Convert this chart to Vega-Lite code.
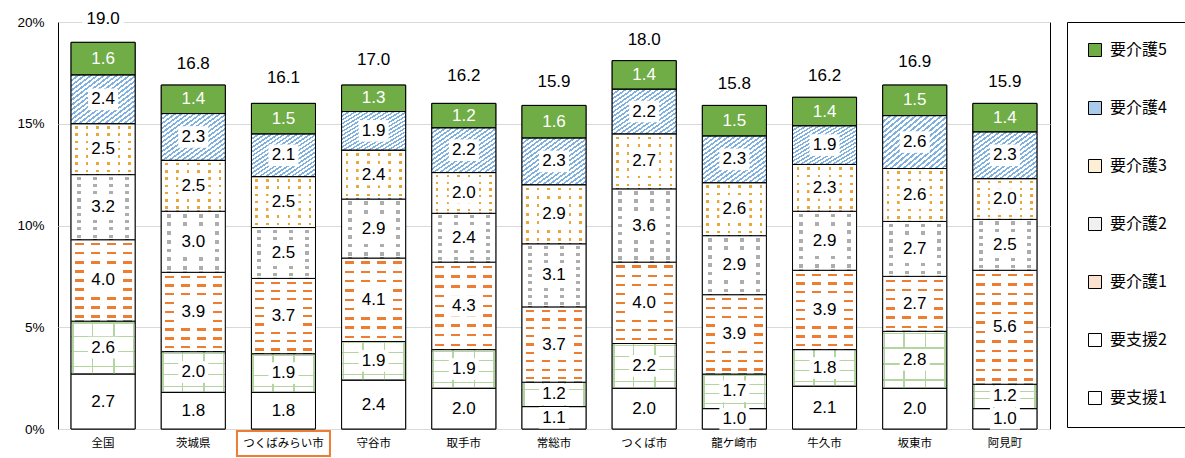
{
  "$schema": "https://vega.github.io/schema/vega-lite/v6.json",
  "width": 992,
  "height": 407,
  "autosize": {"type": "none"},
  "padding": {"left": 58, "top": 22, "right": 135, "bottom": 29},
  "background": "#FFFFFF",
  "datasets": {
    "seg": [
      {"city": "全国", "level": "要支援1", "v": 2.7}, {"city": "全国", "level": "要支援2", "v": 2.6}, {"city": "全国", "level": "要介護1", "v": 4.0}, {"city": "全国", "level": "要介護2", "v": 3.2}, {"city": "全国", "level": "要介護3", "v": 2.5}, {"city": "全国", "level": "要介護4", "v": 2.4}, {"city": "全国", "level": "要介護5", "v": 1.6},
      {"city": "茨城県", "level": "要支援1", "v": 1.8}, {"city": "茨城県", "level": "要支援2", "v": 2.0}, {"city": "茨城県", "level": "要介護1", "v": 3.9}, {"city": "茨城県", "level": "要介護2", "v": 3.0}, {"city": "茨城県", "level": "要介護3", "v": 2.5}, {"city": "茨城県", "level": "要介護4", "v": 2.3}, {"city": "茨城県", "level": "要介護5", "v": 1.4},
      {"city": "つくばみらい市", "level": "要支援1", "v": 1.8}, {"city": "つくばみらい市", "level": "要支援2", "v": 1.9}, {"city": "つくばみらい市", "level": "要介護1", "v": 3.7}, {"city": "つくばみらい市", "level": "要介護2", "v": 2.5}, {"city": "つくばみらい市", "level": "要介護3", "v": 2.5}, {"city": "つくばみらい市", "level": "要介護4", "v": 2.1}, {"city": "つくばみらい市", "level": "要介護5", "v": 1.5},
      {"city": "守谷市", "level": "要支援1", "v": 2.4}, {"city": "守谷市", "level": "要支援2", "v": 1.9}, {"city": "守谷市", "level": "要介護1", "v": 4.1}, {"city": "守谷市", "level": "要介護2", "v": 2.9}, {"city": "守谷市", "level": "要介護3", "v": 2.4}, {"city": "守谷市", "level": "要介護4", "v": 1.9}, {"city": "守谷市", "level": "要介護5", "v": 1.3},
      {"city": "取手市", "level": "要支援1", "v": 2.0}, {"city": "取手市", "level": "要支援2", "v": 1.9}, {"city": "取手市", "level": "要介護1", "v": 4.3}, {"city": "取手市", "level": "要介護2", "v": 2.4}, {"city": "取手市", "level": "要介護3", "v": 2.0}, {"city": "取手市", "level": "要介護4", "v": 2.2}, {"city": "取手市", "level": "要介護5", "v": 1.2},
      {"city": "常総市", "level": "要支援1", "v": 1.1}, {"city": "常総市", "level": "要支援2", "v": 1.2}, {"city": "常総市", "level": "要介護1", "v": 3.7}, {"city": "常総市", "level": "要介護2", "v": 3.1}, {"city": "常総市", "level": "要介護3", "v": 2.9}, {"city": "常総市", "level": "要介護4", "v": 2.3}, {"city": "常総市", "level": "要介護5", "v": 1.6},
      {"city": "つくば市", "level": "要支援1", "v": 2.0}, {"city": "つくば市", "level": "要支援2", "v": 2.2}, {"city": "つくば市", "level": "要介護1", "v": 4.0}, {"city": "つくば市", "level": "要介護2", "v": 3.6}, {"city": "つくば市", "level": "要介護3", "v": 2.7}, {"city": "つくば市", "level": "要介護4", "v": 2.2}, {"city": "つくば市", "level": "要介護5", "v": 1.4},
      {"city": "龍ケ崎市", "level": "要支援1", "v": 1.0}, {"city": "龍ケ崎市", "level": "要支援2", "v": 1.7}, {"city": "龍ケ崎市", "level": "要介護1", "v": 3.9}, {"city": "龍ケ崎市", "level": "要介護2", "v": 2.9}, {"city": "龍ケ崎市", "level": "要介護3", "v": 2.6}, {"city": "龍ケ崎市", "level": "要介護4", "v": 2.3}, {"city": "龍ケ崎市", "level": "要介護5", "v": 1.5},
      {"city": "牛久市", "level": "要支援1", "v": 2.1}, {"city": "牛久市", "level": "要支援2", "v": 1.8}, {"city": "牛久市", "level": "要介護1", "v": 3.9}, {"city": "牛久市", "level": "要介護2", "v": 2.9}, {"city": "牛久市", "level": "要介護3", "v": 2.3}, {"city": "牛久市", "level": "要介護4", "v": 1.9}, {"city": "牛久市", "level": "要介護5", "v": 1.4},
      {"city": "坂東市", "level": "要支援1", "v": 2.0}, {"city": "坂東市", "level": "要支援2", "v": 2.8}, {"city": "坂東市", "level": "要介護1", "v": 2.7}, {"city": "坂東市", "level": "要介護2", "v": 2.7}, {"city": "坂東市", "level": "要介護3", "v": 2.6}, {"city": "坂東市", "level": "要介護4", "v": 2.6}, {"city": "坂東市", "level": "要介護5", "v": 1.5},
      {"city": "阿見町", "level": "要支援1", "v": 1.0}, {"city": "阿見町", "level": "要支援2", "v": 1.2}, {"city": "阿見町", "level": "要介護1", "v": 5.6}, {"city": "阿見町", "level": "要介護2", "v": 2.5}, {"city": "阿見町", "level": "要介護3", "v": 2.0}, {"city": "阿見町", "level": "要介護4", "v": 2.3}, {"city": "阿見町", "level": "要介護5", "v": 1.4}
    ],
    "levels": [
      {"level": "要支援1", "k": 1}, {"level": "要支援2", "k": 2}, {"level": "要介護1", "k": 3}, {"level": "要介護2", "k": 4}, {"level": "要介護3", "k": 5}, {"level": "要介護4", "k": 6}, {"level": "要介護5", "k": 7}
    ],
    "tot": [
      {"city": "全国", "total": 19.0}, {"city": "茨城県", "total": 16.8}, {"city": "つくばみらい市", "total": 16.1}, {"city": "守谷市", "total": 17.0}, {"city": "取手市", "total": 16.2}, {"city": "常総市", "total": 15.9}, {"city": "つくば市", "total": 18.0}, {"city": "龍ケ崎市", "total": 15.8}, {"city": "牛久市", "total": 16.2}, {"city": "坂東市", "total": 16.9}, {"city": "阿見町", "total": 15.9}
    ],
    "mark": [{"city": "つくばみらい市"}]
  },
  "layer": [
    {
      "data": {"name": "seg"},
      "transform": [
        {"lookup": "level", "from": {"data": {"name": "levels"}, "key": "level", "fields": ["k"]}},
        {"stack": "v", "groupby": ["city"], "sort": [{"field": "k", "order": "ascending"}], "as": ["y0", "y1"]},
        {"calculate": "(datum.y0 + datum.y1) / 2", "as": "mid"}
      ],
      "encoding": {
        "x": {
          "field": "city", "type": "nominal", "title": null,
          "sort": ["全国", "茨城県", "つくばみらい市", "守谷市", "取手市", "常総市", "つくば市", "龍ケ崎市", "牛久市", "坂東市", "阿見町"],
          "scale": {"paddingInner": 0.29, "paddingOuter": 0.145},
          "axis": {"labelAngle": 0, "labelFont": "Noto Sans CJK JP", "labelFontSize": 11.5, "labelColor": "#000000", "ticks": false, "domain": false, "labelPadding": 8}
        }
      },
      "layer": [
        {
          "mark": {"type": "bar", "stroke": "#000000", "strokeWidth": 1},
          "encoding": {
            "y": {
              "field": "y1", "type": "quantitative", "title": null,
              "scale": {"domain": [0, 20], "nice": false},
              "axis": {"values": [0, 5, 10, 15, 20], "labelExpr": "datum.value + '%'", "labelFont": "Liberation Sans", "labelFontSize": 13.5, "labelColor": "#000000", "ticks": false, "domain": false, "labelPadding": 14, "grid": true, "gridColor": "#D9D9D9"}
            },
            "y2": {"field": "y0"},
            "fill": {
              "field": "level", "type": "nominal",
              "scale": {
                "domain": ["要介護5", "要介護4", "要介護3", "要介護2", "要介護1", "要支援2", "要支援1"],
                "range": ["#70AD47", "#A9CBEA", "#FCEFD6", "#F0F0F0", "#FBE2D0", "#FFFFFF", "#FFFFFF"]
              },
              "legend": {
                "orient": "none", "legendX": 1009, "legendY": 0, "title": null,
                "strokeColor": "#000000", "fillColor": "#FFFFFF", "padding": 20, "rowPadding": 40,
                "symbolType": "square", "symbolSize": 169, "symbolStrokeColor": "#000000", "symbolStrokeWidth": 1,
                "labelFont": "Noto Sans CJK JP", "labelFontSize": 16, "labelColor": "#000000", "labelOffset": 7
              }
            }
          }
        },
        {
          "mark": {"type": "bar"},
          "encoding": {
            "y": {"field": "y1", "type": "quantitative", "title": null},
            "y2": {"field": "y0"},
            "fill": {
              "condition": [
                {"test": "datum.level === '要介護5'", "value": "#70AD47"},
                {"test": "datum.level === '要介護4'", "value": {"gradient": "linear", "x1": 0, "y1": 0, "x2": 1, "y2": 1, "stops": [
                  {"offset": 0, "color": "#7FB0DE"}, {"offset": 0.022, "color": "#7FB0DE"}, {"offset": 0.022, "color": "#FFFFFF"}, {"offset": 0.05, "color": "#FFFFFF"},
                  {"offset": 0.05, "color": "#7FB0DE"}, {"offset": 0.072, "color": "#7FB0DE"}, {"offset": 0.072, "color": "#FFFFFF"}, {"offset": 0.1, "color": "#FFFFFF"},
                  {"offset": 0.1, "color": "#7FB0DE"}, {"offset": 0.122, "color": "#7FB0DE"}, {"offset": 0.122, "color": "#FFFFFF"}, {"offset": 0.15, "color": "#FFFFFF"},
                  {"offset": 0.15, "color": "#7FB0DE"}, {"offset": 0.172, "color": "#7FB0DE"}, {"offset": 0.172, "color": "#FFFFFF"}, {"offset": 0.2, "color": "#FFFFFF"},
                  {"offset": 0.2, "color": "#7FB0DE"}, {"offset": 0.222, "color": "#7FB0DE"}, {"offset": 0.222, "color": "#FFFFFF"}, {"offset": 0.25, "color": "#FFFFFF"},
                  {"offset": 0.25, "color": "#7FB0DE"}, {"offset": 0.272, "color": "#7FB0DE"}, {"offset": 0.272, "color": "#FFFFFF"}, {"offset": 0.3, "color": "#FFFFFF"},
                  {"offset": 0.3, "color": "#7FB0DE"}, {"offset": 0.322, "color": "#7FB0DE"}, {"offset": 0.322, "color": "#FFFFFF"}, {"offset": 0.35, "color": "#FFFFFF"},
                  {"offset": 0.35, "color": "#7FB0DE"}, {"offset": 0.372, "color": "#7FB0DE"}, {"offset": 0.372, "color": "#FFFFFF"}, {"offset": 0.4, "color": "#FFFFFF"},
                  {"offset": 0.4, "color": "#7FB0DE"}, {"offset": 0.422, "color": "#7FB0DE"}, {"offset": 0.422, "color": "#FFFFFF"}, {"offset": 0.45, "color": "#FFFFFF"},
                  {"offset": 0.45, "color": "#7FB0DE"}, {"offset": 0.472, "color": "#7FB0DE"}, {"offset": 0.472, "color": "#FFFFFF"}, {"offset": 0.5, "color": "#FFFFFF"},
                  {"offset": 0.5, "color": "#7FB0DE"}, {"offset": 0.522, "color": "#7FB0DE"}, {"offset": 0.522, "color": "#FFFFFF"}, {"offset": 0.55, "color": "#FFFFFF"},
                  {"offset": 0.55, "color": "#7FB0DE"}, {"offset": 0.572, "color": "#7FB0DE"}, {"offset": 0.572, "color": "#FFFFFF"}, {"offset": 0.6, "color": "#FFFFFF"},
                  {"offset": 0.6, "color": "#7FB0DE"}, {"offset": 0.622, "color": "#7FB0DE"}, {"offset": 0.622, "color": "#FFFFFF"}, {"offset": 0.65, "color": "#FFFFFF"},
                  {"offset": 0.65, "color": "#7FB0DE"}, {"offset": 0.672, "color": "#7FB0DE"}, {"offset": 0.672, "color": "#FFFFFF"}, {"offset": 0.7, "color": "#FFFFFF"},
                  {"offset": 0.7, "color": "#7FB0DE"}, {"offset": 0.722, "color": "#7FB0DE"}, {"offset": 0.722, "color": "#FFFFFF"}, {"offset": 0.75, "color": "#FFFFFF"},
                  {"offset": 0.75, "color": "#7FB0DE"}, {"offset": 0.772, "color": "#7FB0DE"}, {"offset": 0.772, "color": "#FFFFFF"}, {"offset": 0.8, "color": "#FFFFFF"},
                  {"offset": 0.8, "color": "#7FB0DE"}, {"offset": 0.822, "color": "#7FB0DE"}, {"offset": 0.822, "color": "#FFFFFF"}, {"offset": 0.85, "color": "#FFFFFF"},
                  {"offset": 0.85, "color": "#7FB0DE"}, {"offset": 0.872, "color": "#7FB0DE"}, {"offset": 0.872, "color": "#FFFFFF"}, {"offset": 0.9, "color": "#FFFFFF"},
                  {"offset": 0.9, "color": "#7FB0DE"}, {"offset": 0.922, "color": "#7FB0DE"}, {"offset": 0.922, "color": "#FFFFFF"}, {"offset": 0.95, "color": "#FFFFFF"},
                  {"offset": 0.95, "color": "#7FB0DE"}, {"offset": 0.972, "color": "#7FB0DE"}, {"offset": 0.972, "color": "#FFFFFF"}, {"offset": 1, "color": "#FFFFFF"}
                ]}},
                {"test": "datum.level === '要介護3' && datum.v < 2.45", "value": {"gradient": "linear", "x1": 0, "y1": 0, "x2": 0, "y2": 1, "stops": [
                  {"offset": 0.055, "color": "#FFFFFF"}, {"offset": 0.055, "color": "#E8A838"}, {"offset": 0.1117, "color": "#E8A838"}, {"offset": 0.1117, "color": "#FFFFFF"},
                  {"offset": 0.2217, "color": "#FFFFFF"}, {"offset": 0.2217, "color": "#E8A838"}, {"offset": 0.2783, "color": "#E8A838"}, {"offset": 0.2783, "color": "#FFFFFF"},
                  {"offset": 0.3883, "color": "#FFFFFF"}, {"offset": 0.3883, "color": "#E8A838"}, {"offset": 0.445, "color": "#E8A838"}, {"offset": 0.445, "color": "#FFFFFF"},
                  {"offset": 0.555, "color": "#FFFFFF"}, {"offset": 0.555, "color": "#E8A838"}, {"offset": 0.6117, "color": "#E8A838"}, {"offset": 0.6117, "color": "#FFFFFF"},
                  {"offset": 0.7217, "color": "#FFFFFF"}, {"offset": 0.7217, "color": "#E8A838"}, {"offset": 0.7783, "color": "#E8A838"}, {"offset": 0.7783, "color": "#FFFFFF"},
                  {"offset": 0.8883, "color": "#FFFFFF"}, {"offset": 0.8883, "color": "#E8A838"}, {"offset": 0.945, "color": "#E8A838"}, {"offset": 0.945, "color": "#FFFFFF"}
                ]}},
                {"test": "datum.level === '要介護3'", "value": {"gradient": "linear", "x1": 0, "y1": 0, "x2": 0, "y2": 1, "stops": [
                  {"offset": 0.0471, "color": "#FFFFFF"}, {"offset": 0.0471, "color": "#E8A838"}, {"offset": 0.0957, "color": "#E8A838"}, {"offset": 0.0957, "color": "#FFFFFF"},
                  {"offset": 0.19, "color": "#FFFFFF"}, {"offset": 0.19, "color": "#E8A838"}, {"offset": 0.2386, "color": "#E8A838"}, {"offset": 0.2386, "color": "#FFFFFF"},
                  {"offset": 0.3329, "color": "#FFFFFF"}, {"offset": 0.3329, "color": "#E8A838"}, {"offset": 0.3814, "color": "#E8A838"}, {"offset": 0.3814, "color": "#FFFFFF"},
                  {"offset": 0.4757, "color": "#FFFFFF"}, {"offset": 0.4757, "color": "#E8A838"}, {"offset": 0.5243, "color": "#E8A838"}, {"offset": 0.5243, "color": "#FFFFFF"},
                  {"offset": 0.6186, "color": "#FFFFFF"}, {"offset": 0.6186, "color": "#E8A838"}, {"offset": 0.6671, "color": "#E8A838"}, {"offset": 0.6671, "color": "#FFFFFF"},
                  {"offset": 0.7614, "color": "#FFFFFF"}, {"offset": 0.7614, "color": "#E8A838"}, {"offset": 0.81, "color": "#E8A838"}, {"offset": 0.81, "color": "#FFFFFF"},
                  {"offset": 0.9043, "color": "#FFFFFF"}, {"offset": 0.9043, "color": "#E8A838"}, {"offset": 0.9529, "color": "#E8A838"}, {"offset": 0.9529, "color": "#FFFFFF"}
                ]}},
                {"test": "datum.level === '要介護2' && datum.v < 3.05", "value": {"gradient": "linear", "x1": 0, "y1": 0, "x2": 0, "y2": 1, "stops": [
                  {"offset": 0.04, "color": "#FFFFFF"}, {"offset": 0.04, "color": "#ADADAD"}, {"offset": 0.1029, "color": "#ADADAD"}, {"offset": 0.1029, "color": "#FFFFFF"},
                  {"offset": 0.1829, "color": "#FFFFFF"}, {"offset": 0.1829, "color": "#ADADAD"}, {"offset": 0.2457, "color": "#ADADAD"}, {"offset": 0.2457, "color": "#FFFFFF"},
                  {"offset": 0.3257, "color": "#FFFFFF"}, {"offset": 0.3257, "color": "#ADADAD"}, {"offset": 0.3886, "color": "#ADADAD"}, {"offset": 0.3886, "color": "#FFFFFF"},
                  {"offset": 0.4686, "color": "#FFFFFF"}, {"offset": 0.4686, "color": "#ADADAD"}, {"offset": 0.5314, "color": "#ADADAD"}, {"offset": 0.5314, "color": "#FFFFFF"},
                  {"offset": 0.6114, "color": "#FFFFFF"}, {"offset": 0.6114, "color": "#ADADAD"}, {"offset": 0.6743, "color": "#ADADAD"}, {"offset": 0.6743, "color": "#FFFFFF"},
                  {"offset": 0.7543, "color": "#FFFFFF"}, {"offset": 0.7543, "color": "#ADADAD"}, {"offset": 0.8171, "color": "#ADADAD"}, {"offset": 0.8171, "color": "#FFFFFF"},
                  {"offset": 0.8971, "color": "#FFFFFF"}, {"offset": 0.8971, "color": "#ADADAD"}, {"offset": 0.96, "color": "#ADADAD"}, {"offset": 0.96, "color": "#FFFFFF"}
                ]}},
                {"test": "datum.level === '要介護2'", "value": {"gradient": "linear", "x1": 0, "y1": 0, "x2": 0, "y2": 1, "stops": [
                  {"offset": 0.0311, "color": "#FFFFFF"}, {"offset": 0.0311, "color": "#ADADAD"}, {"offset": 0.08, "color": "#ADADAD"}, {"offset": 0.08, "color": "#FFFFFF"},
                  {"offset": 0.1422, "color": "#FFFFFF"}, {"offset": 0.1422, "color": "#ADADAD"}, {"offset": 0.1911, "color": "#ADADAD"}, {"offset": 0.1911, "color": "#FFFFFF"},
                  {"offset": 0.2533, "color": "#FFFFFF"}, {"offset": 0.2533, "color": "#ADADAD"}, {"offset": 0.3022, "color": "#ADADAD"}, {"offset": 0.3022, "color": "#FFFFFF"},
                  {"offset": 0.3644, "color": "#FFFFFF"}, {"offset": 0.3644, "color": "#ADADAD"}, {"offset": 0.4133, "color": "#ADADAD"}, {"offset": 0.4133, "color": "#FFFFFF"},
                  {"offset": 0.4756, "color": "#FFFFFF"}, {"offset": 0.4756, "color": "#ADADAD"}, {"offset": 0.5244, "color": "#ADADAD"}, {"offset": 0.5244, "color": "#FFFFFF"},
                  {"offset": 0.5867, "color": "#FFFFFF"}, {"offset": 0.5867, "color": "#ADADAD"}, {"offset": 0.6356, "color": "#ADADAD"}, {"offset": 0.6356, "color": "#FFFFFF"},
                  {"offset": 0.6978, "color": "#FFFFFF"}, {"offset": 0.6978, "color": "#ADADAD"}, {"offset": 0.7467, "color": "#ADADAD"}, {"offset": 0.7467, "color": "#FFFFFF"},
                  {"offset": 0.8089, "color": "#FFFFFF"}, {"offset": 0.8089, "color": "#ADADAD"}, {"offset": 0.8578, "color": "#ADADAD"}, {"offset": 0.8578, "color": "#FFFFFF"},
                  {"offset": 0.92, "color": "#FFFFFF"}, {"offset": 0.92, "color": "#ADADAD"}, {"offset": 0.9689, "color": "#ADADAD"}, {"offset": 0.9689, "color": "#FFFFFF"}
                ]}},
                {"test": "datum.level === '要介護1' && datum.v < 3.2", "value": {"gradient": "linear", "x1": 0, "y1": 0, "x2": 0, "y2": 1, "stops": [
                  {"offset": 0.0617, "color": "#FFFFFF"}, {"offset": 0.0617, "color": "#ED7D31"}, {"offset": 0.105, "color": "#ED7D31"}, {"offset": 0.105, "color": "#FFFFFF"},
                  {"offset": 0.2283, "color": "#FFFFFF"}, {"offset": 0.2283, "color": "#ED7D31"}, {"offset": 0.2717, "color": "#ED7D31"}, {"offset": 0.2717, "color": "#FFFFFF"},
                  {"offset": 0.395, "color": "#FFFFFF"}, {"offset": 0.395, "color": "#ED7D31"}, {"offset": 0.4383, "color": "#ED7D31"}, {"offset": 0.4383, "color": "#FFFFFF"},
                  {"offset": 0.5617, "color": "#FFFFFF"}, {"offset": 0.5617, "color": "#ED7D31"}, {"offset": 0.605, "color": "#ED7D31"}, {"offset": 0.605, "color": "#FFFFFF"},
                  {"offset": 0.7283, "color": "#FFFFFF"}, {"offset": 0.7283, "color": "#ED7D31"}, {"offset": 0.7717, "color": "#ED7D31"}, {"offset": 0.7717, "color": "#FFFFFF"},
                  {"offset": 0.895, "color": "#FFFFFF"}, {"offset": 0.895, "color": "#ED7D31"}, {"offset": 0.9383, "color": "#ED7D31"}, {"offset": 0.9383, "color": "#FFFFFF"}
                ]}},
                {"test": "datum.level === '要介護1' && datum.v < 4.5", "value": {"gradient": "linear", "x1": 0, "y1": 0, "x2": 0, "y2": 1, "stops": [
                  {"offset": 0.0411, "color": "#FFFFFF"}, {"offset": 0.0411, "color": "#ED7D31"}, {"offset": 0.07, "color": "#ED7D31"}, {"offset": 0.07, "color": "#FFFFFF"},
                  {"offset": 0.1522, "color": "#FFFFFF"}, {"offset": 0.1522, "color": "#ED7D31"}, {"offset": 0.1811, "color": "#ED7D31"}, {"offset": 0.1811, "color": "#FFFFFF"},
                  {"offset": 0.2633, "color": "#FFFFFF"}, {"offset": 0.2633, "color": "#ED7D31"}, {"offset": 0.2922, "color": "#ED7D31"}, {"offset": 0.2922, "color": "#FFFFFF"},
                  {"offset": 0.3744, "color": "#FFFFFF"}, {"offset": 0.3744, "color": "#ED7D31"}, {"offset": 0.4033, "color": "#ED7D31"}, {"offset": 0.4033, "color": "#FFFFFF"},
                  {"offset": 0.4856, "color": "#FFFFFF"}, {"offset": 0.4856, "color": "#ED7D31"}, {"offset": 0.5144, "color": "#ED7D31"}, {"offset": 0.5144, "color": "#FFFFFF"},
                  {"offset": 0.5967, "color": "#FFFFFF"}, {"offset": 0.5967, "color": "#ED7D31"}, {"offset": 0.6256, "color": "#ED7D31"}, {"offset": 0.6256, "color": "#FFFFFF"},
                  {"offset": 0.7078, "color": "#FFFFFF"}, {"offset": 0.7078, "color": "#ED7D31"}, {"offset": 0.7367, "color": "#ED7D31"}, {"offset": 0.7367, "color": "#FFFFFF"},
                  {"offset": 0.8189, "color": "#FFFFFF"}, {"offset": 0.8189, "color": "#ED7D31"}, {"offset": 0.8478, "color": "#ED7D31"}, {"offset": 0.8478, "color": "#FFFFFF"},
                  {"offset": 0.93, "color": "#FFFFFF"}, {"offset": 0.93, "color": "#ED7D31"}, {"offset": 0.9589, "color": "#ED7D31"}, {"offset": 0.9589, "color": "#FFFFFF"}
                ]}},
                {"test": "datum.level === '要介護1'", "value": {"gradient": "linear", "x1": 0, "y1": 0, "x2": 0, "y2": 1, "stops": [
                  {"offset": 0.0308, "color": "#FFFFFF"}, {"offset": 0.0308, "color": "#ED7D31"}, {"offset": 0.0525, "color": "#ED7D31"}, {"offset": 0.0525, "color": "#FFFFFF"},
                  {"offset": 0.1142, "color": "#FFFFFF"}, {"offset": 0.1142, "color": "#ED7D31"}, {"offset": 0.1358, "color": "#ED7D31"}, {"offset": 0.1358, "color": "#FFFFFF"},
                  {"offset": 0.1975, "color": "#FFFFFF"}, {"offset": 0.1975, "color": "#ED7D31"}, {"offset": 0.2192, "color": "#ED7D31"}, {"offset": 0.2192, "color": "#FFFFFF"},
                  {"offset": 0.2808, "color": "#FFFFFF"}, {"offset": 0.2808, "color": "#ED7D31"}, {"offset": 0.3025, "color": "#ED7D31"}, {"offset": 0.3025, "color": "#FFFFFF"},
                  {"offset": 0.3642, "color": "#FFFFFF"}, {"offset": 0.3642, "color": "#ED7D31"}, {"offset": 0.3858, "color": "#ED7D31"}, {"offset": 0.3858, "color": "#FFFFFF"},
                  {"offset": 0.4475, "color": "#FFFFFF"}, {"offset": 0.4475, "color": "#ED7D31"}, {"offset": 0.4692, "color": "#ED7D31"}, {"offset": 0.4692, "color": "#FFFFFF"},
                  {"offset": 0.5308, "color": "#FFFFFF"}, {"offset": 0.5308, "color": "#ED7D31"}, {"offset": 0.5525, "color": "#ED7D31"}, {"offset": 0.5525, "color": "#FFFFFF"},
                  {"offset": 0.6142, "color": "#FFFFFF"}, {"offset": 0.6142, "color": "#ED7D31"}, {"offset": 0.6358, "color": "#ED7D31"}, {"offset": 0.6358, "color": "#FFFFFF"},
                  {"offset": 0.6975, "color": "#FFFFFF"}, {"offset": 0.6975, "color": "#ED7D31"}, {"offset": 0.7192, "color": "#ED7D31"}, {"offset": 0.7192, "color": "#FFFFFF"},
                  {"offset": 0.7808, "color": "#FFFFFF"}, {"offset": 0.7808, "color": "#ED7D31"}, {"offset": 0.8025, "color": "#ED7D31"}, {"offset": 0.8025, "color": "#FFFFFF"},
                  {"offset": 0.8642, "color": "#FFFFFF"}, {"offset": 0.8642, "color": "#ED7D31"}, {"offset": 0.8858, "color": "#ED7D31"}, {"offset": 0.8858, "color": "#FFFFFF"},
                  {"offset": 0.9475, "color": "#FFFFFF"}, {"offset": 0.9475, "color": "#ED7D31"}, {"offset": 0.9692, "color": "#ED7D31"}, {"offset": 0.9692, "color": "#FFFFFF"}
                ]}},
                {"test": "datum.level === '要支援2'", "value": {"gradient": "linear", "x1": 0, "y1": 0, "x2": 0, "y2": 1, "stops": [
                  {"offset": 0.025, "color": "#FFFFFF"}, {"offset": 0.025, "color": "#B3D6A0"}, {"offset": 0.05, "color": "#B3D6A0"}, {"offset": 0.05, "color": "#FFFFFF"},
                  {"offset": 0.28, "color": "#FFFFFF"}, {"offset": 0.28, "color": "#B3D6A0"}, {"offset": 0.305, "color": "#B3D6A0"}, {"offset": 0.305, "color": "#FFFFFF"},
                  {"offset": 0.56, "color": "#FFFFFF"}, {"offset": 0.56, "color": "#B3D6A0"}, {"offset": 0.585, "color": "#B3D6A0"}, {"offset": 0.585, "color": "#FFFFFF"},
                  {"offset": 0.845, "color": "#FFFFFF"}, {"offset": 0.845, "color": "#B3D6A0"}, {"offset": 0.87, "color": "#B3D6A0"}, {"offset": 0.87, "color": "#FFFFFF"}
                ]}}
              ],
              "value": "#FFFFFF"
            }
          }
        },
        {
          "mark": {"type": "bar", "stroke": "#000000", "strokeWidth": 1},
          "encoding": {
            "y": {"field": "y1", "type": "quantitative", "title": null},
            "y2": {"field": "y0"},
            "fill": {
              "condition": [
                {"test": "datum.level === '要介護3'", "value": {"gradient": "linear", "x1": 0, "y1": 0, "x2": 1, "y2": 0, "stops": [
                  {"offset": 0.0633, "color": "#FFFFFF"}, {"offset": 0.0633, "color": "rgba(255,255,255,0)"}, {"offset": 0.1033, "color": "rgba(255,255,255,0)"}, {"offset": 0.1033, "color": "#FFFFFF"},
                  {"offset": 0.23, "color": "#FFFFFF"}, {"offset": 0.23, "color": "rgba(255,255,255,0)"}, {"offset": 0.27, "color": "rgba(255,255,255,0)"}, {"offset": 0.27, "color": "#FFFFFF"},
                  {"offset": 0.3967, "color": "#FFFFFF"}, {"offset": 0.3967, "color": "rgba(255,255,255,0)"}, {"offset": 0.4367, "color": "rgba(255,255,255,0)"}, {"offset": 0.4367, "color": "#FFFFFF"},
                  {"offset": 0.5633, "color": "#FFFFFF"}, {"offset": 0.5633, "color": "rgba(255,255,255,0)"}, {"offset": 0.6033, "color": "rgba(255,255,255,0)"}, {"offset": 0.6033, "color": "#FFFFFF"},
                  {"offset": 0.73, "color": "#FFFFFF"}, {"offset": 0.73, "color": "rgba(255,255,255,0)"}, {"offset": 0.77, "color": "rgba(255,255,255,0)"}, {"offset": 0.77, "color": "#FFFFFF"},
                  {"offset": 0.8967, "color": "#FFFFFF"}, {"offset": 0.8967, "color": "rgba(255,255,255,0)"}, {"offset": 0.9367, "color": "rgba(255,255,255,0)"}, {"offset": 0.9367, "color": "#FFFFFF"}
                ]}},
                {"test": "datum.level === '要介護2'", "value": {"gradient": "linear", "x1": 0, "y1": 0, "x2": 1, "y2": 0, "stops": [
                  {"offset": 0.094, "color": "#FFFFFF"}, {"offset": 0.094, "color": "rgba(255,255,255,0)"}, {"offset": 0.156, "color": "rgba(255,255,255,0)"}, {"offset": 0.156, "color": "#FFFFFF"},
                  {"offset": 0.344, "color": "#FFFFFF"}, {"offset": 0.344, "color": "rgba(255,255,255,0)"}, {"offset": 0.406, "color": "rgba(255,255,255,0)"}, {"offset": 0.406, "color": "#FFFFFF"},
                  {"offset": 0.594, "color": "#FFFFFF"}, {"offset": 0.594, "color": "rgba(255,255,255,0)"}, {"offset": 0.656, "color": "rgba(255,255,255,0)"}, {"offset": 0.656, "color": "#FFFFFF"},
                  {"offset": 0.844, "color": "#FFFFFF"}, {"offset": 0.844, "color": "rgba(255,255,255,0)"}, {"offset": 0.906, "color": "rgba(255,255,255,0)"}, {"offset": 0.906, "color": "#FFFFFF"}
                ]}},
                {"test": "datum.level === '要介護1'", "value": {"gradient": "linear", "x1": 0, "y1": 0, "x2": 1, "y2": 0, "stops": [
                  {"offset": 0.055, "color": "#FFFFFF"}, {"offset": 0.055, "color": "rgba(255,255,255,0)"}, {"offset": 0.195, "color": "rgba(255,255,255,0)"}, {"offset": 0.195, "color": "#FFFFFF"},
                  {"offset": 0.305, "color": "#FFFFFF"}, {"offset": 0.305, "color": "rgba(255,255,255,0)"}, {"offset": 0.445, "color": "rgba(255,255,255,0)"}, {"offset": 0.445, "color": "#FFFFFF"},
                  {"offset": 0.555, "color": "#FFFFFF"}, {"offset": 0.555, "color": "rgba(255,255,255,0)"}, {"offset": 0.695, "color": "rgba(255,255,255,0)"}, {"offset": 0.695, "color": "#FFFFFF"},
                  {"offset": 0.805, "color": "#FFFFFF"}, {"offset": 0.805, "color": "rgba(255,255,255,0)"}, {"offset": 0.945, "color": "rgba(255,255,255,0)"}, {"offset": 0.945, "color": "#FFFFFF"}
                ]}},
                {"test": "datum.level === '要支援2'", "value": {"gradient": "linear", "x1": 0, "y1": 0, "x2": 1, "y2": 0, "stops": [
                  {"offset": 0.015, "color": "rgba(255,255,255,0)"}, {"offset": 0.015, "color": "#B3D6A0"}, {"offset": 0.04, "color": "#B3D6A0"}, {"offset": 0.04, "color": "rgba(255,255,255,0)"},
                  {"offset": 0.32, "color": "rgba(255,255,255,0)"}, {"offset": 0.32, "color": "#B3D6A0"}, {"offset": 0.345, "color": "#B3D6A0"}, {"offset": 0.345, "color": "rgba(255,255,255,0)"},
                  {"offset": 0.655, "color": "rgba(255,255,255,0)"}, {"offset": 0.655, "color": "#B3D6A0"}, {"offset": 0.68, "color": "#B3D6A0"}, {"offset": 0.68, "color": "rgba(255,255,255,0)"},
                  {"offset": 0.96, "color": "rgba(255,255,255,0)"}, {"offset": 0.96, "color": "#B3D6A0"}, {"offset": 0.985, "color": "#B3D6A0"}, {"offset": 0.985, "color": "rgba(255,255,255,0)"}
                ]}}
              ],
              "value": "transparent"
            }
          }
        },
        {
          "transform": [{"filter": "datum.level !== '要介護5'"}],
          "mark": {"type": "point", "shape": "M-1,-0.72L1,-0.72L1,0.72L-1,0.72Z", "size": 900, "filled": true, "fill": "#FFFFFF", "strokeWidth": 0, "opacity": 1},
          "encoding": {"y": {"field": "mid", "type": "quantitative", "title": null}}
        },
        {
          "mark": {"type": "text", "font": "Liberation Sans", "fontSize": 17, "baseline": "middle", "align": "center"},
          "encoding": {
            "y": {"field": "mid", "type": "quantitative", "title": null},
            "text": {"field": "v", "type": "quantitative", "format": ".1f"},
            "color": {"condition": {"test": "datum.level === '要介護5'", "value": "#FFFFFF"}, "value": "#000000"}
          }
        }
      ]
    },
    {
      "data": {"name": "tot"},
      "encoding": {
        "x": {"field": "city", "type": "nominal", "title": null, "sort": ["全国", "茨城県", "つくばみらい市", "守谷市", "取手市", "常総市", "つくば市", "龍ケ崎市", "牛久市", "坂東市", "阿見町"]},
        "y": {"field": "total", "type": "quantitative", "title": null}
      },
      "layer": [
        {
          "mark": {"type": "point", "shape": "M-1,-0.5L1,-0.5L1,0.5L-1,0.5Z", "size": 1764, "filled": true, "fill": "#FFFFFF", "strokeWidth": 0, "opacity": 1},
          "encoding": {"yOffset": {"value": -23}}
        },
        {
          "mark": {"type": "text", "font": "Liberation Sans", "fontSize": 17, "baseline": "middle", "align": "center", "dy": -23, "color": "#000000"},
          "encoding": {"text": {"field": "total", "type": "quantitative", "format": ".1f"}}
        }
      ]
    },
    {
      "data": {"name": "mark"},
      "mark": {"type": "point", "shape": "M-1,-0.27L1,-0.27L1,0.27L-1,0.27Z", "size": 8649, "filled": false, "stroke": "#ED7D31", "strokeWidth": 2, "opacity": 1},
      "encoding": {
        "x": {"field": "city", "type": "nominal", "title": null, "sort": ["全国", "茨城県", "つくばみらい市", "守谷市", "取手市", "常総市", "つくば市", "龍ケ崎市", "牛久市", "坂東市", "阿見町"]},
        "y": {"datum": -0.71, "type": "quantitative", "title": null}
      }
    }
  ],
  "config": {
    "view": {"stroke": "#000000", "strokeWidth": 1},
    "font": "Liberation Sans"
  }
}
